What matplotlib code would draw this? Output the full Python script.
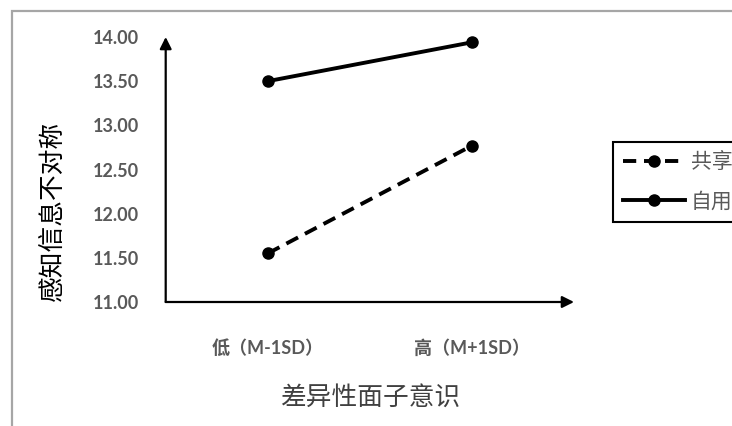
import matplotlib
matplotlib.use("Agg")
import matplotlib.pyplot as plt
from matplotlib.patches import Rectangle

categories = ["低（M-1SD）", "高（M+1SD）"]
series_names = ["共享", "自用"]
shared_values = [11.55, 12.77]
own_values = [13.50, 13.94]
y_ticks = [11.00, 11.50, 12.00, 12.50, 13.00, 13.50, 14.00]

plt.rcParams['font.family'] = ['Lato', 'Noto Sans CJK SC', 'DejaVu Sans']

W, H = 732, 426
fig = plt.figure(figsize=(W / 100, H / 100), dpi=100)
fig.patch.set_facecolor('white')

# outer gray frame (right/bottom edges fall outside the picture)
fig.patches.append(Rectangle((12 / W, -0.1), 1.2, 1 - 10.5 / H + 0.1,
                             transform=fig.transFigure, fill=False,
                             edgecolor='#a6a6a6', linewidth=1.6, zorder=0))

ax = fig.add_axes([165.7 / W, 1 - 302 / H, (574 - 165.7) / W, (302 - 37) / H])
ax.set_facecolor('none')
x = list(range(len(categories)))

ax.plot(x, shared_values, color='black', linewidth=2.8, linestyle=(0, (3.4, 2.0)),
        marker='o', markersize=8, label=series_names[0], clip_on=False)
ax.plot(x, own_values, color='black', linewidth=2.8, linestyle='-',
        marker='o', markersize=8, label=series_names[1], clip_on=False)

ax.set_xlim(-0.5, 1.5)
ax.set_ylim(11, 14)
for s in ax.spines.values():
    s.set_visible(False)

# axis arrows
ax.annotate('', xy=(1.5, 11), xytext=(-0.5, 11), xycoords='data',
            arrowprops=dict(arrowstyle='-|>,head_length=0.7,head_width=0.35',
                            color='black', lw=1.6, shrinkA=0, shrinkB=0),
            annotation_clip=False)
ax.annotate('', xy=(-0.5, 14), xytext=(-0.5, 11), xycoords='data',
            arrowprops=dict(arrowstyle='-|>,head_length=0.7,head_width=0.35',
                            color='black', lw=1.6, shrinkA=0, shrinkB=0),
            annotation_clip=False)

ax.set_yticks(y_ticks)
ax.set_yticklabels([f"{v:.2f}" for v in y_ticks])
ax.set_xticks(x)
ax.set_xticklabels(categories)
ax.tick_params(axis='y', length=0, pad=19, labelsize=13, labelcolor='#595959')
ax.tick_params(axis='x', length=0, pad=27, labelsize=13, labelcolor='#595959')
for lab in ax.get_yticklabels() + ax.get_xticklabels():
    lab.set_fontweight('bold')

ax.set_xlabel("差异性面子意识", fontsize=18.5, color='#404040', labelpad=20,
              family=['Noto Sans CJK SC', 'DejaVu Sans'])
fig.text(53 / W, 1 - 211 / H, "感知信息不对称", rotation=90, ha='center', va='center',
         fontsize=18.5, color='black', fontweight='medium',
         family=['Noto Sans CJK SC', 'DejaVu Sans'])

leg = ax.legend(loc='upper left', bbox_to_anchor=(613 / W, 1 - 141.7 / H),
                bbox_transform=fig.transFigure, borderaxespad=0,
                handlelength=3.0, handletextpad=0.27,
                borderpad=0.46, labelspacing=0.83, fancybox=False, framealpha=1,
                prop={'family': ['Noto Sans CJK SC', 'DejaVu Sans'], 'size': 15})
leg.get_frame().set_edgecolor('black')
leg.get_frame().set_linewidth(1.5)
for t in leg.get_texts():
    t.set_color('#595959')

fig.savefig("out.png", dpi=100)
